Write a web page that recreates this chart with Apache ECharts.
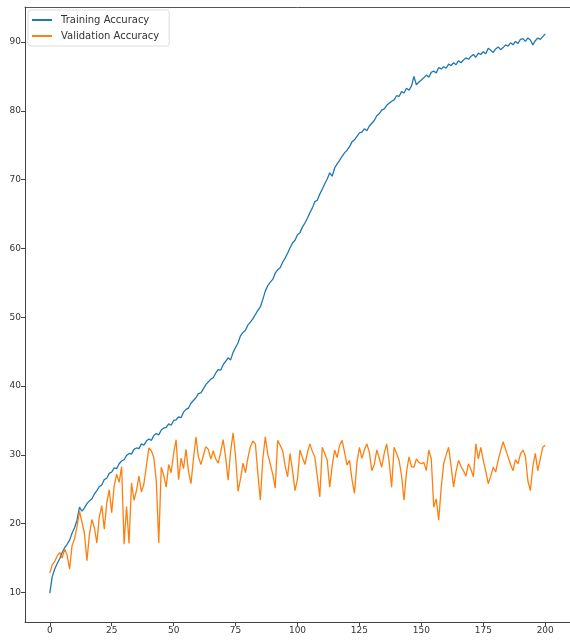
<!DOCTYPE html>
<html>
<head>
<meta charset="utf-8">
<script src="https://cdn.jsdelivr.net/npm/echarts@6/dist/echarts.min.js"></script>
<style>
html,body{margin:0;padding:0;background:#fff;}
#chart{width:570px;height:644px;}
</style>
</head>
<body>
<div id="chart"></div>
<script>
var seriesNames = ['Training Accuracy', 'Validation Accuracy'];
var xTicks = [0, 25, 50, 75, 100, 125, 150, 175, 200];
var yTicks = [10, 20, 30, 40, 50, 60, 70, 80, 90];

var trainAcc = [
9.9,12.3,13.4,14.2,14.9,15.8,16.5,17.0,17.6,18.6,
19.4,20.5,22.4,21.8,22.3,22.9,23.3,23.6,24.3,24.8,
25.4,25.6,26.4,26.6,27.3,27.5,28.1,28.0,28.7,29.1,
29.3,29.9,30.2,30.1,30.8,31.0,30.9,31.6,31.4,32.0,
32.3,32.1,32.8,33.1,32.9,33.6,33.9,34.0,34.5,34.3,
35.0,35.1,35.5,35.4,36.2,36.6,36.8,37.5,37.9,38.3,
38.9,39.0,39.6,40.2,40.6,41.0,41.2,41.9,42.4,42.3,
43.1,43.6,44.1,43.8,44.9,45.6,46.3,47.3,47.8,48.1,
48.9,49.3,49.8,50.4,51.0,51.5,52.6,53.8,54.6,55.1,
55.5,56.4,56.9,57.2,58.0,58.6,59.3,60.1,60.8,61.2,
62.0,62.3,63.1,63.7,64.4,65.2,65.9,66.8,67.0,67.9,
68.6,69.4,70.1,71.0,70.5,71.7,72.3,72.8,73.4,73.9,
74.3,74.8,75.5,75.8,76.3,76.8,76.9,77.4,77.1,77.8,
78.2,78.6,79.3,79.6,80.1,80.3,80.8,81.1,81.4,81.6,
82.2,82.1,82.8,82.6,83.3,83.0,83.6,85.0,83.8,84.2,
84.5,84.8,85.2,84.9,85.6,85.8,85.5,86.3,86.1,86.4,
86.2,86.8,86.6,87.0,86.7,87.3,87.0,87.4,87.7,87.5,
87.9,88.2,87.8,88.4,88.2,88.6,88.3,89.1,88.8,88.5,
89.0,89.3,88.9,89.2,89.6,89.4,89.9,89.6,90.1,89.8,
90.4,90.5,90.1,90.6,90.3,89.6,90.2,90.6,90.4,90.8,
91.2
];

var valAcc = [
12.8,14.0,14.5,15.3,15.8,15.0,16.3,15.4,13.4,16.8,
17.8,19.6,21.8,20.2,18.6,14.6,18.4,20.6,19.4,17.2,
21.0,22.6,19.2,23.0,24.9,21.6,25.5,27.2,26.0,28.3,
17.0,22.5,17.1,25.9,23.4,24.8,26.9,24.6,25.8,28.4,
31.0,30.6,29.6,26.2,17.2,28.2,27.0,25.3,28.6,27.4,
30.2,32.2,26.4,29.5,28.0,30.8,27.6,25.8,29.4,32.6,
29.7,28.6,29.9,31.2,30.8,29.4,30.6,29.4,28.8,30.4,
32.2,29.6,26.3,30.5,33.2,29.8,24.7,26.5,28.8,27.4,
29.6,31.2,32.0,31.6,27.3,23.4,29.4,32.6,30.1,28.7,
27.2,25.2,32.1,31.4,30.6,28.4,26.8,30.2,27.7,24.8,
26.5,30.7,29.6,28.6,30.3,31.6,30.5,29.7,26.8,23.9,
31.1,30.2,29.2,25.3,28.4,30.7,29.6,31.4,32.1,30.4,
28.5,29.2,26.4,24.4,28.9,31.1,29.5,30.7,31.6,30.4,
27.7,28.6,30.7,29.5,28.2,30.2,31.6,29.0,25.3,31.1,
30.2,29.2,27.0,23.4,27.5,29.7,28.3,28.2,29.4,28.9,
28.7,28.9,27.7,30.7,29.4,22.4,23.6,20.5,25.2,28.7,
30.0,31.1,28.4,25.3,27.6,29.2,28.3,27.7,26.9,28.7,
27.9,26.8,31.6,29.4,31.1,29.2,27.6,25.8,26.9,28.2,
27.5,29.2,30.6,31.9,30.8,29.7,28.6,27.7,29.3,28.7,
30.1,30.7,29.8,26.2,24.8,28.3,30.2,27.7,29.4,31.1,
31.4
];

function pairs(arr) {
  return arr.map(function (v, i) { return [i, v]; });
}

var chart = echarts.init(document.getElementById('chart'), null, {renderer: 'canvas'});
var axisCol = '#444';
var labelStyle = {color: '#333', fontSize: 9, fontFamily: 'DejaVu Sans'};

chart.setOption({
  animation: false,
  backgroundColor: '#fff',
  grid: {
    left: 25, top: 7, right: -4, bottom: 22,
    show: false
  },
  legend: {
    show: true,
    orient: 'vertical',
    left: 28, top: 10,
    padding: [5, 10, 5, 4],
    itemGap: 6,
    itemWidth: 20, itemHeight: 2,
    icon: 'rect',
    borderColor: '#dddddd', borderWidth: 1, borderRadius: 3,
    backgroundColor: 'rgba(255,255,255,0.8)',
    textStyle: {color: '#333', fontSize: 10, fontFamily: 'DejaVu Sans', padding: [0, 0, 0, 4]},
    data: seriesNames
  },
  xAxis: [{
    type: 'value', min: -10, max: 210,
    splitLine: {show: false},
    axisLine: {show: true, onZero: false, lineStyle: {color: axisCol}},
    axisTick: {show: true, length: 4, customValues: xTicks, lineStyle: {color: axisCol}},
    axisLabel: Object.assign({margin: 4, customValues: xTicks}, labelStyle)
  }, {
    type: 'value', min: -10, max: 210, position: 'top',
    splitLine: {show: false},
    axisLine: {show: true, onZero: false, lineStyle: {color: '#555'}},
    axisTick: {show: false},
    axisLabel: {show: false}
  }],
  yAxis: {
    type: 'value', min: 5.7, max: 95.1,
    splitLine: {show: false},
    axisLine: {show: true, onZero: false, lineStyle: {color: axisCol}},
    axisTick: {show: true, length: 4, customValues: yTicks, lineStyle: {color: axisCol}},
    axisLabel: Object.assign({margin: 4, customValues: yTicks}, labelStyle)
  },
  series: [
    {
      name: seriesNames[0], type: 'line', data: pairs(trainAcc),
      symbol: 'none', lineStyle: {color: '#1f77b4', width: 1.3}, itemStyle: {color: '#1f77b4'}
    },
    {
      name: seriesNames[1], type: 'line', data: pairs(valAcc),
      symbol: 'none', lineStyle: {color: '#ff7f0e', width: 1.3}, itemStyle: {color: '#ff7f0e'}
    }
  ]
});
</script>
</body>
</html>
